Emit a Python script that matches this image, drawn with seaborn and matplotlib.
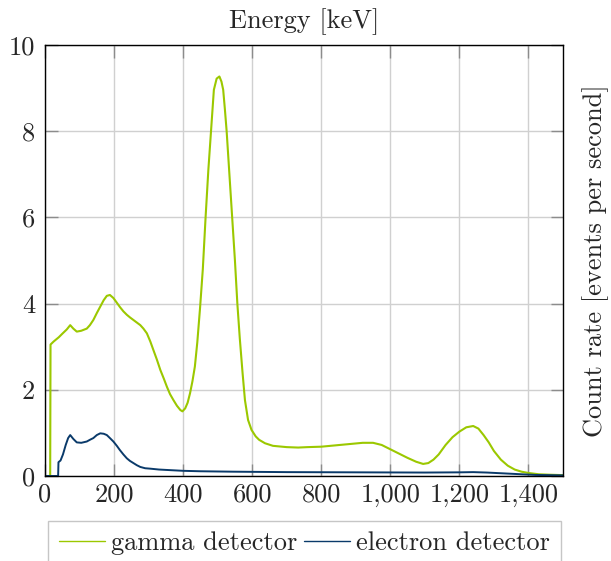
# import modules
import matplotlib
matplotlib.use("Agg")
import matplotlib.pyplot as plt
from matplotlib.ticker import FuncFormatter
import pandas as pd
import seaborn as sb

# data (energy in keV, rate in events per second)
gamma_energy = [0, 15, 16, 25, 40, 50, 63, 73, 82, 92, 105, 121, 130, 140, 150, 160, 170, 179,
                188, 198, 208, 217, 227, 237, 246, 256, 266, 276, 285, 295, 305, 314, 324, 334,
                344, 353, 362, 372, 382, 392, 398, 406, 413, 420, 427, 434, 441, 449, 457, 465,
                473, 481, 489, 497, 505, 511, 516, 521, 526, 534, 542, 550, 557, 564, 572, 579,
                588, 598, 610, 620, 637, 660, 700, 733, 760, 800, 840, 880, 920, 950, 975, 1000,
                1025, 1050, 1075, 1095, 1110, 1125, 1140, 1160, 1180, 1200, 1220, 1240, 1255,
                1270, 1285, 1300, 1320, 1340, 1360, 1380, 1400, 1430, 1460, 1500]
gamma_rate = [0, 0, 3.05, 3.12, 3.22, 3.3, 3.4, 3.5, 3.42, 3.35, 3.37, 3.42, 3.5, 3.62, 3.78, 3.93,
              4.08, 4.18, 4.2, 4.13, 4.02, 3.92, 3.82, 3.74, 3.68, 3.62, 3.56, 3.5, 3.42, 3.31,
              3.12, 2.92, 2.7, 2.46, 2.26, 2.07, 1.9, 1.76, 1.63, 1.53, 1.5, 1.57, 1.7, 1.92, 2.2,
              2.54, 3.1, 3.9, 4.8, 6.0, 7.1, 8.03, 8.96, 9.22, 9.27, 9.15, 8.96, 8.5, 8.0, 7.0,
              6.0, 5.0, 4.0, 3.2, 2.4, 1.76, 1.3, 1.07, 0.92, 0.84, 0.76, 0.7, 0.67, 0.66, 0.67,
              0.68, 0.71, 0.74, 0.77, 0.77, 0.72, 0.62, 0.52, 0.42, 0.33, 0.28, 0.3, 0.38, 0.5,
              0.72, 0.9, 1.03, 1.13, 1.16, 1.1, 0.95, 0.78, 0.58, 0.38, 0.24, 0.15, 0.1, 0.07,
              0.04, 0.03, 0.02]

electron_energy = [0, 38, 39, 45, 52, 60, 67, 73, 82, 92, 105, 121, 130, 140, 150, 160, 170, 179,
                   188, 198, 208, 217, 227, 237, 246, 256, 266, 276, 290, 305, 330, 353, 401, 450,
                   545, 700, 900, 1100, 1200, 1240, 1280, 1330, 1380, 1420, 1500]
electron_rate = [0, 0, 0.32, 0.36, 0.5, 0.72, 0.88, 0.95, 0.86, 0.78, 0.77, 0.8, 0.84, 0.88, 0.95,
                 0.99, 0.98, 0.95, 0.88, 0.8, 0.7, 0.6, 0.5, 0.41, 0.35, 0.3, 0.25, 0.21, 0.18,
                 0.17, 0.15, 0.14, 0.12, 0.11, 0.1, 0.09, 0.085, 0.08, 0.085, 0.09, 0.08, 0.06,
                 0.04, 0.025, 0.015]

labels = ["gamma detector", "electron detector"]
x_ticks = [0, 200, 400, 600, 800, 1000, 1200, 1400]
y_ticks = [0, 2, 4, 6, 8, 10]

gammacolor = "#9bc800"
electroncolor = "#0a3a6a"
gridcolor = "#d0d0d0"
tickcolor = "#8c8c8c"

# style
sb.set_style("white")
plt.rcParams["font.family"] = ["cmr10", "DejaVu Serif"]
plt.rcParams["axes.unicode_minus"] = False
plt.rcParams["mathtext.fontset"] = "cm"

fig = plt.figure(figsize=(6.11, 5.61), dpi=100)
ax = fig.add_axes([45 / 611, 85 / 561, 518 / 611, 431 / 561])

gamma_df = pd.DataFrame({"energy": gamma_energy, "rate": gamma_rate})
electron_df = pd.DataFrame({"energy": electron_energy, "rate": electron_rate})

sb.lineplot(data=gamma_df, x="energy", y="rate", ax=ax, color=gammacolor, lw=1.5,
            estimator=None, sort=False, label=labels[0])
sb.lineplot(data=electron_df, x="energy", y="rate", ax=ax, color=electroncolor, lw=1.4,
            estimator=None, sort=False, label=labels[1])

# axes limits and ticks
ax.set_xlim(0, 1500)
ax.set_ylim(0, 10)
ax.set_xticks(x_ticks)
ax.set_yticks(y_ticks)
ax.xaxis.set_major_formatter(FuncFormatter(lambda v, p: f"{v:,.0f}"))
ax.yaxis.set_major_formatter(FuncFormatter(lambda v, p: f"{v:.0f}"))
ax.tick_params(direction="in", length=9, width=1, color=tickcolor, labelsize=19,
               top=True, right=True, bottom=True, left=True, pad=5)
ax.tick_params(axis="y", pad=7)
ax.grid(True, color=gridcolor, lw=1)
ax.set_axisbelow(True)
for b in ["top", "bottom", "left", "right"]:
    ax.spines[b].set_color("black")
    ax.spines[b].set_linewidth(1)
    ax.spines[b].set_visible(True)

# labels
ax.set_title("Energy [keV]", fontsize=19, pad=12)
ax.set_xlabel("")
ax.yaxis.set_label_position("right")
ax.set_ylabel("Count rate [events per second]", fontsize=19, labelpad=14)

# legend below the plot
leg = ax.legend(loc="upper left", bbox_to_anchor=(48 / 611, 40 / 561), bbox_transform=fig.transFigure,
                ncol=2, fontsize=19, frameon=True, fancybox=False, edgecolor="#b8b8b8",
                handlelength=1.75, handletextpad=0.22, columnspacing=0.28, borderpad=0.4,
                borderaxespad=0)
leg.get_frame().set_linewidth(1)
for h in leg.get_lines():
    h.set_linewidth(1)

plt.savefig("out.png", dpi=100)
